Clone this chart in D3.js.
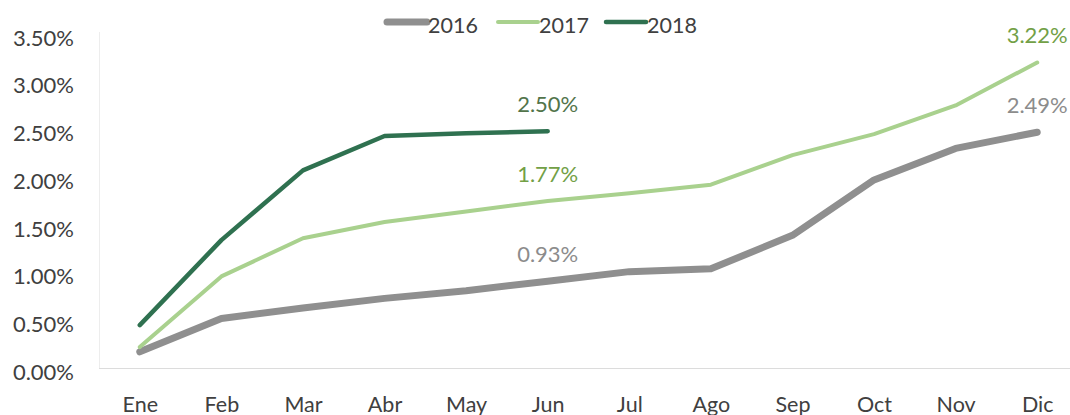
<!DOCTYPE html>
<html>
<head>
<meta charset="utf-8">
<script src="https://cdn.jsdelivr.net/npm/d3@7"></script>
<style>
  html, body { margin: 0; padding: 0; background: #ffffff; }
  svg { display: block; font-family: Lato, "Open Sans", sans-serif; }
</style>
</head>
<body>
<svg id="chart" width="1070" height="415"></svg>
<script>
// Monthly cumulative values (%) per year
const months = ["Ene", "Feb", "Mar", "Abr", "May", "Jun", "Jul", "Ago", "Sep", "Oct", "Nov", "Dic"];
const values2016 = [0.19, 0.54, 0.65, 0.75, 0.83, 0.93, 1.03, 1.06, 1.41, 1.99, 2.32, 2.49];
const values2017 = [0.24, 0.98, 1.38, 1.55, 1.66, 1.77, 1.85, 1.94, 2.25, 2.47, 2.77, 3.22];
const values2018 = [0.47, 1.36, 2.09, 2.45, 2.48, 2.50];
const yTicks = [0, 0.5, 1.0, 1.5, 2.0, 2.5, 3.0, 3.5];
// months whose value is printed above the line
const labelled2016 = ["Jun", "Dic"];
const labelled2017 = ["Jun", "Dic"];
const labelled2018 = ["Jun"];

const series = [
  { name: "2016", values: values2016, labels: labelled2016, color: "#8f8f8f", width: 7,   labelColor: "#8c8c8c" },
  { name: "2017", values: values2017, labels: labelled2017, color: "#a9d18e", width: 4,   labelColor: "#72a046" },
  { name: "2018", values: values2018, labels: labelled2018, color: "#2f7150", width: 4.5, labelColor: "#52744a" }
];

const svg = d3.select("#chart");
const plot = { left: 99, right: 1078, top: 32, bottom: 370 };

const x = d3.scalePoint().domain(months).range([plot.left, plot.right]).padding(0.5);
const y = d3.scaleLinear().domain([0, 3.5]).range([plot.bottom, plot.bottom - 3.5 * 95.5]);
const fmt = v => d3.format(".2f")(v) + "%";

// plot area frame (left and bottom edges)
svg.append("line")
  .attr("x1", plot.left + 0.5).attr("x2", plot.left + 0.5)
  .attr("y1", plot.top).attr("y2", y(0) - 1)
  .attr("stroke", "#ededed").attr("stroke-width", 1);
svg.append("line")
  .attr("x1", plot.left).attr("x2", 1070)
  .attr("y1", y(0) - 1.5).attr("y2", y(0) - 1.5)
  .attr("stroke", "#dcdcdc").attr("stroke-width", 1.2);

// y axis labels
const yAxis = svg.append("g")
  .attr("transform", `translate(${plot.left},0)`)
  .call(d3.axisLeft(y).tickValues(yTicks).tickFormat(fmt).tickSize(0).tickPadding(25));
yAxis.select(".domain").remove();
yAxis.selectAll("text")
  .attr("dy", "0.42em")
  .attr("fill", "#404040")
  .style("font-size", "22px")
  .style("font-family", "Lato, 'Open Sans', sans-serif");

// x axis labels
const xAxis = svg.append("g")
  .attr("transform", `translate(0,${y(0)})`)
  .call(d3.axisBottom(x).tickSize(0).tickPadding(0));
xAxis.select(".domain").remove();
xAxis.selectAll("text")
  .attr("y", 0)
  .attr("dy", 41.5)
  .attr("fill", "#404040")
  .style("font-size", "21.5px")
  .style("font-family", "Lato, 'Open Sans', sans-serif");

// lines
const line = d3.line()
  .x((d, i) => x(months[i]))
  .y(d => y(d));

series.forEach(s => {
  svg.append("path")
    .datum(s.values)
    .attr("d", line)
    .attr("fill", "none")
    .attr("stroke", s.color)
    .attr("stroke-width", s.width)
    .attr("stroke-linejoin", "round")
    .attr("stroke-linecap", "round");
});

// value labels
series.forEach(s => {
  const pts = s.values.map((v, i) => ({ m: months[i], v })).filter(d => s.labels.includes(d.m));
  svg.selectAll(null)
    .data(pts)
    .join("text")
    .attr("x", d => x(d.m))
    .attr("y", d => y(d.v) - 19)
    .attr("text-anchor", "middle")
    .attr("fill", s.labelColor)
    .style("font-size", "22px")
    .text(d => fmt(d.v));
});

// legend
const legend = svg.append("g").attr("transform", "translate(387,22)");
const legendX = [0, 111, 219];
series.forEach((s, i) => {
  const g = legend.append("g").attr("transform", `translate(${legendX[i]},0)`);
  g.append("line")
    .attr("x1", 0).attr("x2", 40)
    .attr("y1", 0).attr("y2", 0)
    .attr("stroke", s.color)
    .attr("stroke-width", s.width)
    .attr("stroke-linecap", "round");
  g.append("text")
    .attr("x", 41)
    .attr("y", 11)
    .attr("fill", "#404040")
    .style("font-size", "21.5px")
    .text(s.name);
});
</script>
</body>
</html>
